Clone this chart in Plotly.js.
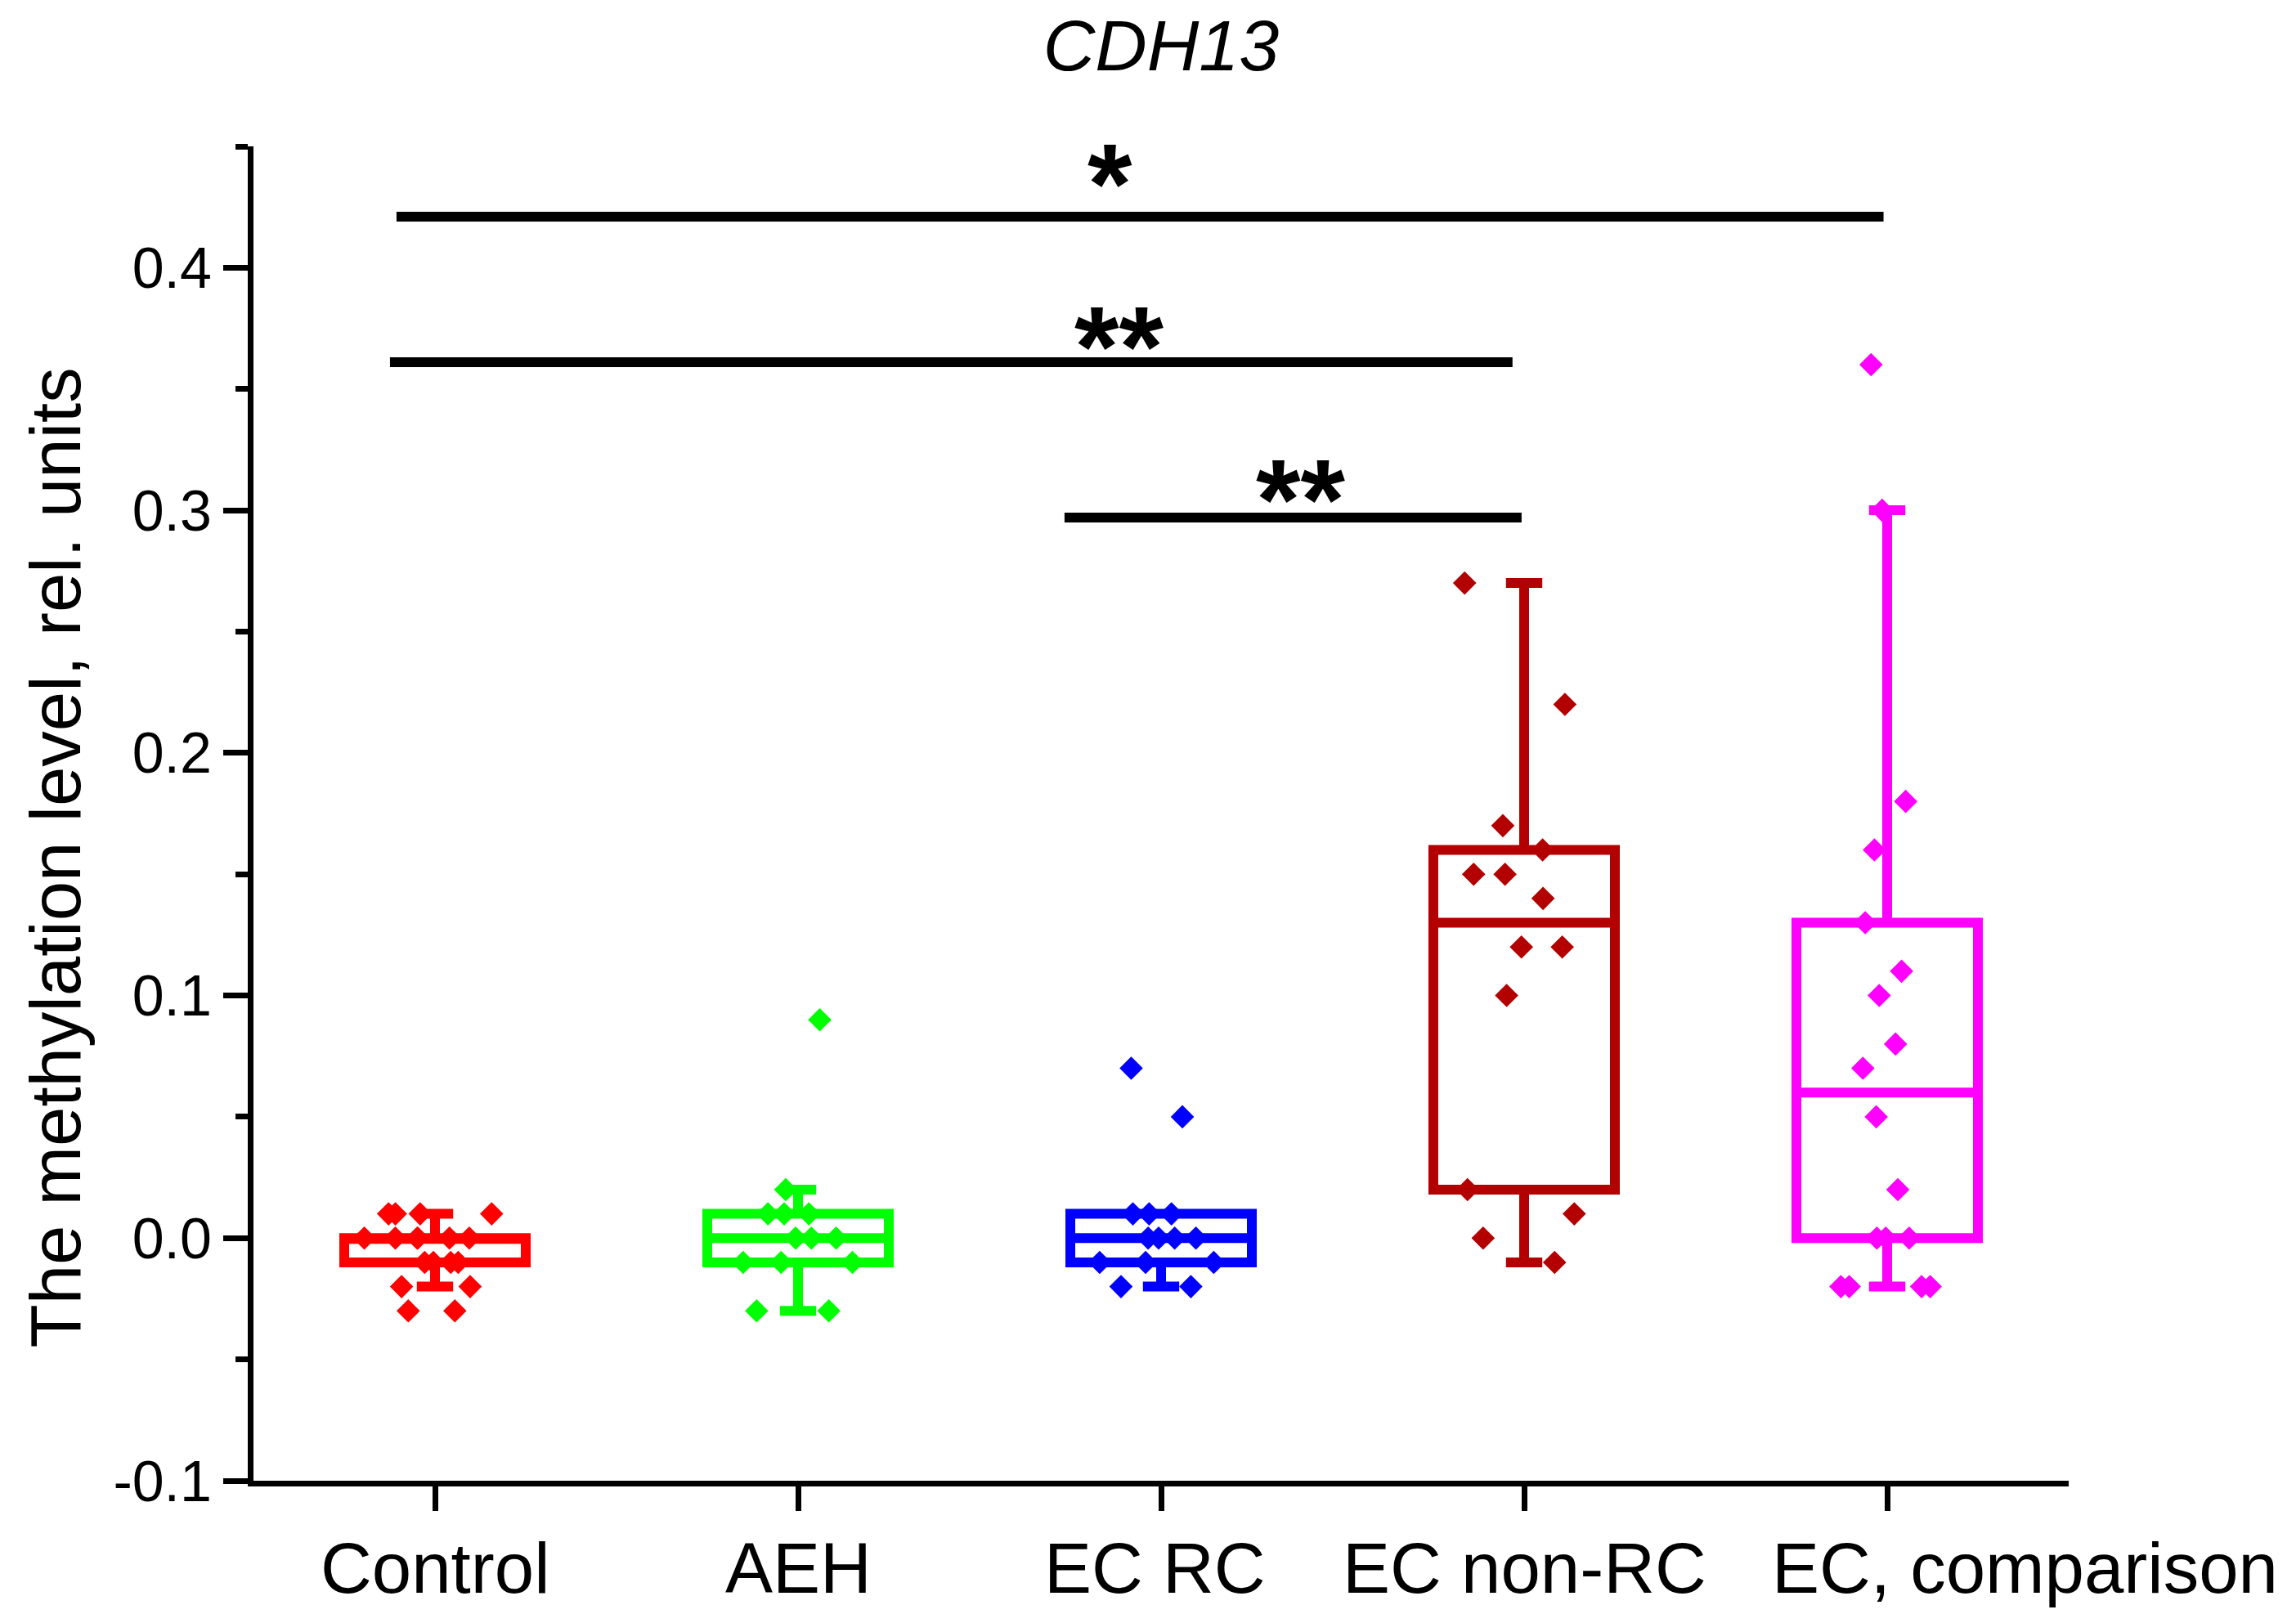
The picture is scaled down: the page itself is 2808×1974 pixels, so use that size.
<!DOCTYPE html>
<html>
<head>
<meta charset="utf-8">
<script src="https://cdn.plot.ly/plotly-3.0.1.min.js"></script>
<style>
  html, body { margin: 0; padding: 0; background: #ffffff; }
  #chart { width: 2808px; height: 1974px; }
</style>
</head>
<body>
<div id="chart"></div>
<script>
// ---- data ----
const categories = ['Control', 'AEH', 'EC RC', 'EC non-RC', 'EC, comparison'];

const control  = [0.01, 0.01, 0.01, 0.01, 0, 0, 0, 0, 0, 0, -0.01, -0.01, -0.01, -0.01, -0.02, -0.02, -0.03, -0.03];
const aeh      = [0.09, 0.02, 0.01, 0.01, 0.01, 0, 0, 0, -0.01, -0.01, -0.01, -0.03, -0.03];
const ecRC     = [0.07, 0.05, 0.01, 0.01, 0.01, 0, 0, 0, 0, -0.01, -0.01, -0.01, -0.02, -0.02];
const ecNonRC  = [0.27, 0.22, 0.17, 0.16, 0.15, 0.15, 0.14, 0.12, 0.12, 0.10, 0.02, 0.01, 0.00, -0.01];
const ecComp   = [0.36, 0.30, 0.18, 0.16, 0.13, 0.11, 0.10, 0.08, 0.07, 0.05, 0.02, 0, 0, 0, -0.02, -0.02, -0.02, -0.02];

const yTickVals = [-0.1, 0.0, 0.1, 0.2, 0.3, 0.4];
const yTickText = ['-0.1', '0.0', '0.1', '0.2', '0.3', '0.4'];

// significance brackets (category-index units) and their labels
const sigFrom   = [-0.106, -0.124, 1.734];
const sigTo     = [3.99, 2.968, 2.993];
const sigLevel  = [0.421, 0.361, 0.297];
const sigLabel  = ['*', '**', '**'];
const sigLabelX = [1.86, 1.885, 2.385];
const sigLabelY = [0.4170, 0.3500, 0.2870];

// ---- styles ----
const colors = ['#FF0000', '#00FF00', '#0000FF', '#B30000', '#FF00FF'];
const FONT = '"Liberation Sans", Arial, Helvetica, sans-serif';
const catLabelShift = [0, 0, -8, 0, 168];   // pixel nudges of the category labels

const groups = [control, aeh, ecRC, ecNonRC, ecComp];

const traces = groups.map((vals, i) => ({
  type: 'box',
  name: categories[i],
  x: vals.map(() => categories[i]),
  y: vals,
  boxpoints: 'all',
  jitter: 0.8,
  pointpos: 0,
  quartilemethod: 'exclusive',
  width: 0.5,
  whiskerwidth: 0.2,
  fillcolor: 'rgba(0,0,0,0)',
  line: { color: colors[i], width: 12 },
  marker: { symbol: 'diamond', size: 22, color: colors[i], line: { width: 0 } },
  hoverinfo: 'skip',
  showlegend: false
}));

const shapes = sigLevel.map((lv, i) => ({
  type: 'line', xref: 'x', yref: 'y',
  x0: sigFrom[i], x1: sigTo[i], y0: lv, y1: lv,
  line: { color: '#000000', width: 12 }
}));

const annotations = sigLabel.map((lab, i) => ({
  xref: 'x', yref: 'y', x: sigLabelX[i], y: sigLabelY[i],
  text: lab, showarrow: false,
  xanchor: 'center', yanchor: 'bottom', yshift: -28,
  font: { family: FONT, size: 140, weight: 'bold', color: '#000' }
}));

// category labels under the x axis
categories.forEach((c, i) => {
  annotations.push({
    xref: 'x', yref: 'paper', x: i, y: 0,
    xanchor: 'center', yanchor: 'top', yshift: -56, xshift: catLabelShift[i],
    text: c, showarrow: false,
    font: { family: FONT, size: 87, color: '#000' }
  });
});

annotations.push({
  xref: 'paper', yref: 'paper', x: 0, y: 0.4666,
  xshift: -242, xanchor: 'center', yanchor: 'middle',
  textangle: -90, showarrow: false,
  text: 'The methylation level, rel. units',
  font: { family: FONT, size: 87, color: '#000' }
});

const layout = {
  width: 2808, height: 1974,
  margin: { l: 310, r: 278, t: 179, b: 163, pad: 0 },
  paper_bgcolor: '#ffffff', plot_bgcolor: '#ffffff',
  font: { family: FONT, color: '#000000' },
  showlegend: false,
  title: {
    text: 'CDH13',
    font: { family: FONT, size: 88, style: 'italic', color: '#000' },
    x: 0.5, xref: 'paper', xanchor: 'center',
    y: 0.972, yref: 'container', yanchor: 'middle'
  },
  xaxis: {
    type: 'category', range: [-0.5, 4.5],
    showline: true, linewidth: 7, linecolor: '#000',
    ticks: 'outside', ticklen: 30, tickwidth: 7, tickcolor: '#000',
    showticklabels: false,
    showgrid: false, zeroline: false, fixedrange: true
  },
  yaxis: {
    range: [-0.1, 0.45],
    tickmode: 'array', tickvals: yTickVals, ticktext: yTickText,
    showline: true, linewidth: 7, linecolor: '#000',
    ticks: 'outside', ticklen: 30, tickwidth: 7, tickcolor: '#000',
    tickfont: { family: FONT, size: 70, color: '#000' },
    minor: { tickmode: 'linear', tick0: 0, dtick: 0.05, ticks: 'outside', ticklen: 15, tickwidth: 7, tickcolor: '#000', showgrid: false },
    showgrid: false, zeroline: false, fixedrange: true
  },
  shapes: shapes,
  annotations: annotations
};

Plotly.newPlot('chart', traces, layout, { displayModeBar: false, staticPlot: true });
</script>
</body>
</html>
